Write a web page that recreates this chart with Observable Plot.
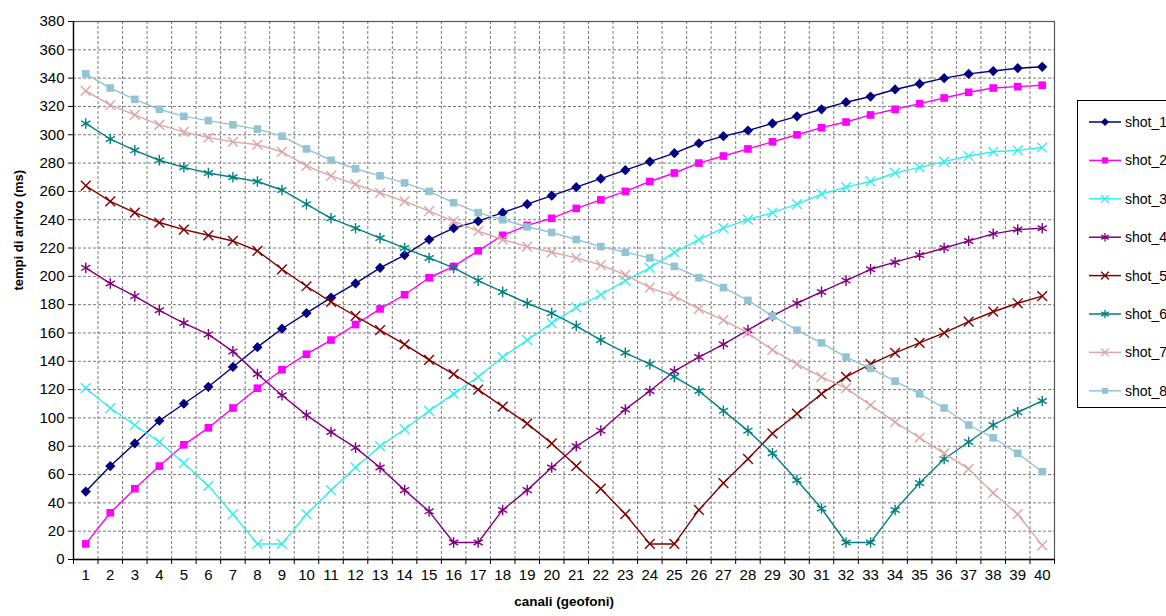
<!DOCTYPE html>
<html><head><meta charset="utf-8">
<script src="https://cdn.jsdelivr.net/npm/d3@7"></script>
<script src="https://cdn.jsdelivr.net/npm/@observablehq/plot@0.6"></script>
<style>
body{margin:0;background:#fff;}
#wrap{position:relative;width:1166px;height:616px;overflow:hidden;font-family:"Liberation Sans",Arial,sans-serif;background:#fff;}
#legend{position:absolute;left:1077px;top:100px;width:100px;height:308px;border:1px solid #000;background:#fff;box-sizing:border-box;}
</style></head><body><div id="wrap"><div id="chart"></div><div id="legend"></div></div>
<script>
const categories = [1,2,3,4,5,6,7,8,9,10,11,12,13,14,15,16,17,18,19,20,21,22,23,24,25,26,27,28,29,30,31,32,33,34,35,36,37,38,39,40];
const yTicks = [0,20,40,60,80,100,120,140,160,180,200,220,240,260,280,300,320,340,360,380];
const seriesNames = ["shot_1","shot_2","shot_3","shot_4","shot_5","shot_6","shot_7","shot_8"];
const shot1 = [48,66,82,98,110,122,136,150,163,174,185,195,206,215,226,234,239,245,251,257,263,269,275,281,287,294,299,303,308,313,318,323,327,332,336,340,343,345,347,348];
const shot2 = [11,33,50,66,81,93,107,121,134,145,155,166,177,187,199,207,218,229,236,241,248,254,260,267,273,280,285,290,295,300,305,309,314,318,322,326,330,333,334,335];
const shot3 = [121,107,95,83,68,52,32,11,11,32,49,65,80,92,105,117,129,143,155,167,178,187,197,206,217,226,234,240,245,251,258,263,267,273,277,281,285,288,289,291];
const shot4 = [206,195,186,176,167,159,147,131,116,102,90,79,65,49,34,12,12,35,49,65,80,91,106,119,133,143,152,162,172,181,189,197,205,210,215,220,225,230,233,234];
const shot5 = [264,253,245,238,233,229,225,218,205,193,182,172,162,152,141,131,120,108,96,82,66,50,32,11,11,35,54,71,89,103,117,129,138,146,153,160,168,175,181,186];
const shot6 = [308,297,289,282,277,273,270,267,261,251,241,234,227,220,213,206,197,189,181,174,165,155,146,138,129,119,105,91,75,56,36,12,12,35,54,71,83,95,104,112];
const shot7 = [331,321,314,307,302,298,295,293,288,278,271,265,259,253,246,239,232,226,221,217,213,208,201,192,186,177,169,160,148,138,129,121,109,97,86,75,64,47,32,10];
const shot8 = [343,333,325,318,313,310,307,304,299,290,282,276,271,266,260,252,245,240,235,231,226,221,217,213,207,199,192,183,172,162,153,143,135,126,117,107,95,86,75,62];
const seriesValues = [shot1,shot2,shot3,shot4,shot5,shot6,shot7,shot8];

// styles (kept apart from data)
const seriesColors = ["#000080","#ff00ff","#33eeee","#800080","#800000","#008080","#dba5a5","#93c4d4"];
const seriesSymbols = ["diamond2","square","times","asterisk","times","asterisk","times","square"];
const filledSymbols = new Set(["diamond2","square"]);
const symbolD3 = {diamond2: d3.symbolDiamond2, square: d3.symbolSquare, times: d3.symbolTimes, asterisk: d3.symbolAsterisk};
const symbolR = {diamond2: 4.6, square: 4.3, times: 4.5, asterisk: 5};

const rows = [];
seriesNames.forEach((name, i) => seriesValues[i].forEach((v, j) => rows.push({series: name, canale: categories[j], tempo: v})));
const boundaries = categories.map(c => c - 0.5).concat([categories[categories.length - 1] + 0.5]);

const marks = [
  Plot.ruleY(yTicks.slice(1), {stroke: "#7a7a7a", strokeDasharray: "3,2", strokeWidth: 1}),
  Plot.ruleX(boundaries.slice(1, -1), {stroke: "#7a7a7a", strokeDasharray: "3,2", strokeWidth: 1}),
  Plot.frame({stroke: "#555", strokeWidth: 1.2}),
  Plot.ruleX([boundaries[0]], {stroke: "#000", strokeWidth: 1.3}),
  Plot.ruleY([yTicks[0]], {stroke: "#000", strokeWidth: 1.3}),
  Plot.axisY({ticks: yTicks, tickSize: 5, tickPadding: 4, label: null, fontSize: 15}),
  Plot.axisX({ticks: categories, tickSize: 0, tickPadding: 10, label: null, fontSize: 15, tickFormat: d => String(d)}),
  Plot.axisX({ticks: boundaries, tickSize: 5, label: null, tickFormat: () => ""}),
  Plot.text(["tempi di arrivo (ms)"], {frameAnchor: "left", dx: -55, rotate: -90, fontWeight: "bold", fontSize: 13}),
  Plot.text(["canali (geofoni)"], {frameAnchor: "bottom", dy: 46, fontWeight: "bold", fontSize: 13.5})
];

seriesNames.forEach((name, i) => {
  const data = rows.filter(r => r.series === name);
  const sym = seriesSymbols[i];
  const filled = filledSymbols.has(sym);
  marks.push(Plot.line(data, {x: "canale", y: "tempo", stroke: seriesColors[i], strokeWidth: 1.4}));
  marks.push(Plot.dot(data, {
    x: "canale", y: "tempo", symbol: () => sym, r: symbolR[sym],
    fill: filled ? seriesColors[i] : "none",
    stroke: filled ? "none" : seriesColors[i],
    strokeWidth: filled ? 0 : 1.4
  }));
});

const chart = Plot.plot({
  width: 1166, height: 616,
  marginLeft: 73, marginRight: 112, marginTop: 21, marginBottom: 57,
  x: {domain: [boundaries[0], boundaries[boundaries.length - 1]]},
  y: {domain: [yTicks[0], yTicks[yTicks.length - 1]]},
  symbol: {type: "identity"},
  style: {fontFamily: "'Liberation Sans', Arial, sans-serif", fontSize: "14px", color: "#000", background: "#fff"},
  marks
});
document.getElementById("chart").appendChild(chart);

// legend
const lg = d3.select("#legend").append("svg").attr("width", 100).attr("height", 306);
seriesNames.forEach((name, i) => {
  const y = 21 + i * 38.4;
  const g = lg.append("g").attr("transform", `translate(0,${y})`);
  g.append("line").attr("x1", 11).attr("x2", 43).attr("y1", 0).attr("y2", 0).attr("stroke", seriesColors[i]).attr("stroke-width", 1.5);
  const sym = seriesSymbols[i];
  const filled = filledSymbols.has(sym);
  const r = symbolR[sym] * 0.8;
  g.append("path").attr("transform", "translate(27,0)")
    .attr("d", d3.symbol(symbolD3[sym], Math.PI * r * r)())
    .attr("fill", filled ? seriesColors[i] : "none")
    .attr("stroke", filled ? "none" : seriesColors[i])
    .attr("stroke-width", 1.3);
  g.append("text").attr("x", 47).attr("y", 0).attr("dy", "0.35em")
    .attr("font-family", "'Liberation Sans', Arial, sans-serif").attr("font-size", 14).text(name);
});
</script></body></html>
